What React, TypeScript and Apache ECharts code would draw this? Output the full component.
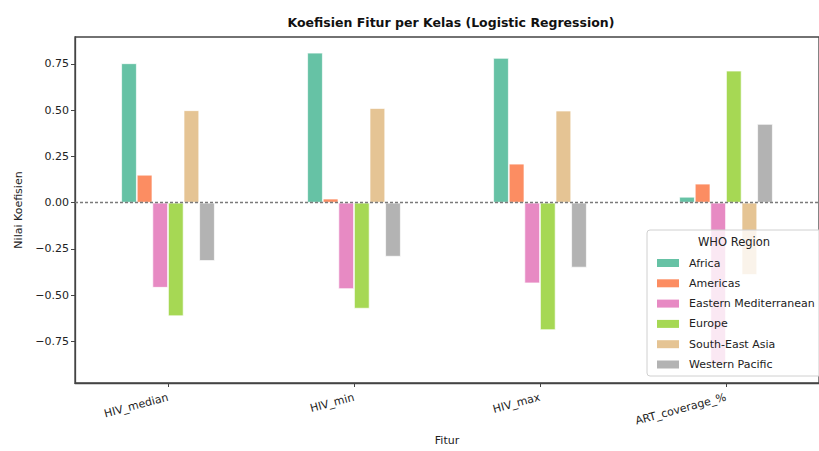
import React, { useEffect, useRef } from "react";
import * as echarts from "echarts";

const categories = ["HIV_median", "HIV_min", "HIV_max", "ART_coverage_%"];
const regions = [
  "Africa",
  "Americas",
  "Eastern Mediterranean",
  "Europe",
  "South-East Asia",
  "Western Pacific",
];
const africa = [0.754, 0.811, 0.783, 0.032];
const americas = [0.151, 0.022, 0.211, 0.103];
const easternMed = [-0.46, -0.467, -0.436, -0.875];
const europe = [-0.614, -0.573, -0.689, 0.714];
const seAsia = [0.5, 0.512, 0.498, -0.391];
const westernPac = [-0.315, -0.292, -0.351, 0.426];
const yTicks = [-0.75, -0.5, -0.25, 0, 0.25, 0.5, 0.75];
const colors = ["#66c2a5", "#fc8d62", "#e78ac3", "#a6d854", "#e5c494", "#b3b3b3"];

const FONT = "DejaVu Sans";

export default function App() {
  const ref = useRef<HTMLDivElement>(null);
  useEffect(() => {
    if (!ref.current) return;
    const chart = echarts.init(ref.current, null, { renderer: "svg" });
    const seriesData = [africa, americas, easternMed, europe, seAsia, westernPac];
    const series: any[] = seriesData.map((d, i) => ({
      name: regions[i],
      type: "bar",
      data: d,
      barWidth: 15.6,
      barGap: "0%",
      itemStyle: { color: colors[i], borderColor: "rgba(255,255,255,0.85)", borderWidth: 0.8 },
      z: 2,
    }));
    series[0].markLine = {
      silent: true,
      symbol: "none",
      label: { show: false },
      lineStyle: { type: [3, 2], color: "#7a7a7a", width: 1.3 },
      data: [{ yAxis: 0 }],
      z: 3,
    };
    chart.setOption({
      animation: false,
      color: colors,
      textStyle: { fontFamily: FONT },
      grid: {
        left: 75,
        top: 37,
        width: 752,
        height: 346,
        show: true,
        borderColor: "#444",
        borderWidth: 1.3,
        backgroundColor: "transparent",
        containLabel: false,
      },
      xAxis: {
        type: "category",
        data: categories,
        name: "Fitur",
        nameLocation: "middle",
        nameGap: 52,
        nameTextStyle: { fontSize: 11, color: "#222", fontFamily: FONT },
        axisLine: { show: true, onZero: false, lineStyle: { color: "#444", width: 1.3 } },
        axisTick: { show: true, alignWithLabel: true, length: 4, lineStyle: { color: "#444" } },
        axisLabel: {
          rotate: 15,
          fontSize: 11,
          color: "#222",
          fontFamily: FONT,
          margin: 14,
          interval: 0,
        },
        splitLine: { show: false },
      },
      yAxis: {
        type: "value",
        min: -0.975,
        max: 0.896,
        name: "Nilai Koefisien",
        nameLocation: "middle",
        nameGap: 49,
        nameTextStyle: { fontSize: 11, color: "#222", fontFamily: FONT },
        axisLine: { show: true, lineStyle: { color: "#444", width: 1.3 } },
        axisTick: { show: true, length: 4, customValues: yTicks, lineStyle: { color: "#444" } },
        axisLabel: {
          customValues: yTicks,
          fontSize: 11,
          color: "#222",
          fontFamily: FONT,
          margin: 6,
          formatter: (v: number) => v.toFixed(2).replace("-", "\u2212"),
        },
        splitLine: { show: false },
      },
      legend: {
        orient: "vertical",
        left: 652,
        top: 251,
        itemWidth: 22,
        itemHeight: 8,
        itemGap: 6.3,
        icon: "rect",
        z: 6,
        data: regions,
        textStyle: {
          fontSize: 11,
          lineHeight: 14,
          color: "#222",
          fontFamily: FONT,
          padding: [0, 0, 0, 5],
        },
        itemStyle: { borderWidth: 0 },
      },
      graphic: [
        {
          type: "text",
          x: 451,
          y: 22,
          z: 10,
          style: {
            text: "Koefisien Fitur per Kelas (Logistic Regression)",
            fontFamily: FONT,
            fontSize: 12.5,
            fontWeight: "bold",
            fill: "#111",
            textAlign: "center",
            textVerticalAlign: "middle",
          },
        },
        {
          type: "rect",
          x: 647,
          y: 230,
          z: 4,
          shape: { width: 180, height: 146, r: 3 },
          style: { fill: "rgba(255,255,255,0.8)", stroke: "#d0d0d0", lineWidth: 1 },
        },
        {
          type: "text",
          x: 734,
          y: 242,
          z: 5,
          style: {
            text: "WHO Region",
            fontFamily: FONT,
            fontSize: 11.5,
            fill: "#222",
            textAlign: "center",
            textVerticalAlign: "middle",
          },
        },
      ],
      series,
    });
    return () => chart.dispose();
  }, []);
  return (
    <div
      ref={ref}
      style={{ position: "fixed", left: 0, top: 0, width: 819, height: 451, background: "#fff" }}
    />
  );
}
